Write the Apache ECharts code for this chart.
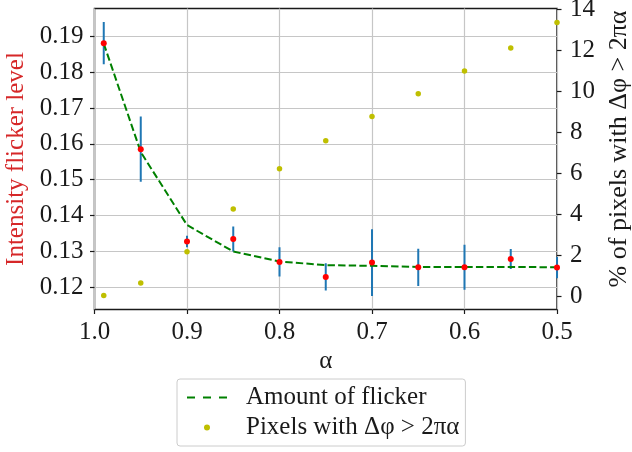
<!DOCTYPE html>
<html>
<head>
<meta charset="utf-8">
<script src="https://cdn.jsdelivr.net/npm/echarts@6/dist/echarts.min.js"></script>
<style>
  html, body { margin: 0; padding: 0; background: #ffffff; }
  #chart { width: 632px; height: 452px; }
</style>
</head>
<body>
<div id="chart"></div>
<script>
// Smoothing factor alpha for each measurement
const alphas = [0.99, 0.95, 0.9, 0.85, 0.8, 0.75, 0.7, 0.65, 0.6, 0.55, 0.5];
// Measured intensity flicker (mean and standard deviation)
const flickerMean = [0.1881, 0.1585, 0.1327, 0.1334, 0.1270, 0.1228, 0.1268, 0.1255, 0.1255, 0.1278, 0.1254];
const flickerErr  = [0.0059, 0.0091, 0.0016, 0.0035, 0.0041, 0.0038, 0.0093, 0.0052, 0.0063, 0.0028, 0.0030];
// Modelled amount of flicker
const flickerCurve = [0.1880, 0.1577, 0.1373, 0.1299, 0.1271, 0.1261, 0.1259, 0.1256, 0.1256, 0.1256, 0.1255];
// Percentage of pixels whose phase step exceeds 2*pi*alpha
const pixelPct = [0.02, 0.63, 2.16, 4.25, 6.22, 7.59, 8.78, 9.89, 11.0, 12.13, 13.38];

// Tick values
const leftTicks = [0.12, 0.13, 0.14, 0.15, 0.16, 0.17, 0.18, 0.19];
const rightTicks = [0, 2, 4, 6, 8, 10, 12, 14];

const FONT = '"Liberation Serif", "Times New Roman", serif';
const FS = 25;

const dashIcon = 'path://M0,3h8v2h-8z M16,3h8v2h-8z M32,3h8v2h-8z M0,0h0.01v0.01h-0.01z M39.99,7.99h0.01v0.01h-0.01z';
const dotIcon = 'path://M17,4a3,3 0 1,0 6,0a3,3 0 1,0 -6,0z M0,0h0.01v0.01h-0.01z M39.99,7.99h0.01v0.01h-0.01z';

const chart = echarts.init(document.getElementById('chart'), null, { renderer: 'canvas' });

const option = {
  animation: false,
  backgroundColor: '#ffffff',
  textStyle: { fontFamily: FONT },
  grid: {
    left: 94.5, right: 75, top: 8.5, bottom: 142.5,
    outerBoundsMode: 'none',
    containLabel: false,
    show: true, borderColor: '#1a1a1a', borderWidth: 1.5, backgroundColor: 'transparent'
  },
  legend: {
    orient: 'vertical',
    left: 177, top: 379,
    padding: [6, 6, 6, 10],
    itemGap: 5,
    itemWidth: 40, itemHeight: 8,
    borderColor: '#cccccc', borderWidth: 1, borderRadius: 3,
    backgroundColor: '#ffffff',
    selectedMode: false,
    textStyle: { fontFamily: FONT, fontSize: FS, color: '#1a1a1a', padding: [0, 0, 0, 14] },
    data: [
      { name: 'Amount of flicker', icon: dashIcon },
      { name: 'Pixels with Δφ > 2πα', icon: dotIcon }
    ]
  },
  xAxis: {
    type: 'value',
    inverse: true,
    min: 0.5, max: 1.0, interval: 0.1,
    name: 'α',
    nameLocation: 'middle',
    nameGap: 30,
    nameTextStyle: { fontFamily: FONT, fontSize: FS, color: '#1a1a1a' },
    axisLine: { show: false, onZero: false },
    axisTick: { show: true, inside: false, length: 4.5, lineStyle: { color: '#1a1a1a', width: 1.2 } },
    axisLabel: { margin: 10, fontFamily: FONT, fontSize: FS, color: '#1a1a1a',
      formatter: v => v.toFixed(1) },
    splitLine: { show: true, lineStyle: { color: '#c6c6c6', width: 1.2 } }
  },
  yAxis: [
    {
      type: 'value',
      position: 'left',
      min: 0.1137, max: 0.1978,
      splitNumber: 8,
      name: 'Intensity flicker level',
      nameLocation: 'middle',
      nameGap: 63,
      nameRotate: 90,
      nameTextStyle: { fontFamily: FONT, fontSize: FS, color: '#d62728' },
      axisLine: { show: false, onZero: false },
      axisTick: { show: true, inside: false, length: 4.5, customValues: leftTicks,
        lineStyle: { color: '#1a1a1a', width: 1.2 } },
      axisLabel: { margin: 11, fontFamily: FONT, fontSize: FS, color: '#1a1a1a',
        customValues: leftTicks, formatter: v => v.toFixed(2) },
      splitLine: { show: true, lineStyle: { color: '#c6c6c6', width: 1.2 } }
    },
    {
      type: 'value',
      position: 'right',
      min: -0.66, max: 14.06,
      splitNumber: 7,
      name: '% of pixels with Δφ > 2πα',
      nameLocation: 'middle',
      nameGap: 46,
      nameRotate: 90,
      nameTextStyle: { fontFamily: FONT, fontSize: 26, color: '#1a1a1a', padding: [0, 0, 0, 20] },
      axisLine: { show: false, onZero: false },
      axisTick: { show: true, inside: false, length: 4.5, customValues: rightTicks,
        lineStyle: { color: '#1a1a1a', width: 1.2 } },
      axisLabel: { margin: 13, fontFamily: FONT, fontSize: FS, color: '#1a1a1a',
        customValues: rightTicks, formatter: v => String(Math.round(v)) },
      splitLine: { show: false }
    }
  ],
  series: [
    {
      name: 'error',
      type: 'custom',
      xAxisIndex: 0, yAxisIndex: 0,
      clip: true,
      silent: true,
      z: 2,
      data: alphas.map((a, i) => [a, flickerMean[i] - flickerErr[i], flickerMean[i] + flickerErr[i]]),
      encode: { x: 0, y: [1, 2] },
      renderItem: (params, api) => {
        const x = api.value(0);
        const lo = api.coord([x, api.value(1)]);
        const hi = api.coord([x, api.value(2)]);
        return {
          type: 'line',
          shape: { x1: lo[0], y1: lo[1], x2: hi[0], y2: hi[1] },
          style: { stroke: '#1f77b4', lineWidth: 2 }
        };
      }
    },
    {
      name: 'Amount of flicker',
      type: 'line',
      xAxisIndex: 0, yAxisIndex: 0,
      z: 3,
      symbol: 'none',
      showSymbol: false,
      data: alphas.map((a, i) => [a, flickerCurve[i]]),
      lineStyle: { color: '#008000', width: 2, type: [7.4, 3.2] },
      itemStyle: { color: '#008000' }
    },
    {
      name: 'mean',
      type: 'scatter',
      xAxisIndex: 0, yAxisIndex: 0,
      z: 4,
      symbolSize: 6,
      data: alphas.map((a, i) => [a, flickerMean[i]]),
      itemStyle: { color: '#ff0000', opacity: 1 }
    },
    {
      name: 'Pixels with Δφ > 2πα',
      type: 'scatter',
      xAxisIndex: 0, yAxisIndex: 1,
      z: 5,
      symbolSize: 5.5,
      data: alphas.map((a, i) => [a, pixelPct[i]]),
      itemStyle: { color: '#bfbf00', opacity: 1 }
    }
  ]
};

chart.setOption(option);
</script>
</body>
</html>
